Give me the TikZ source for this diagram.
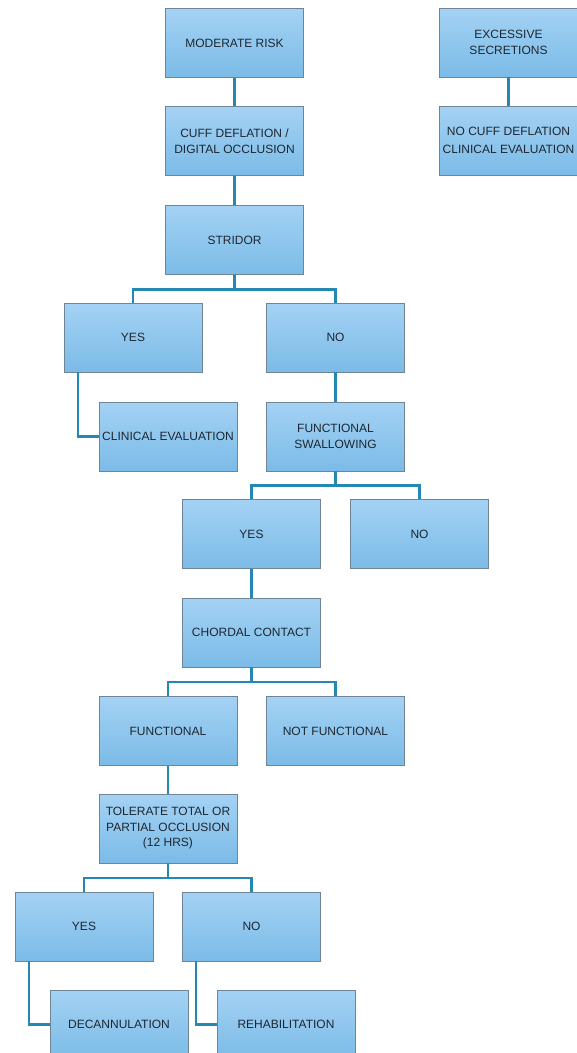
\documentclass[tikz,border=0pt]{standalone}
\usepackage{fontspec}
\setmainfont{Liberation Sans}

\definecolor{boxtop}{HTML}{A4D2F4}
\definecolor{boxbot}{HTML}{7BBBE7}
\definecolor{boxline}{HTML}{6F8496}
\definecolor{wireblue}{HTML}{2389B2}
\definecolor{ink}{HTML}{1E2731}

\begin{document}
\begin{tikzpicture}[x=1pt, y=-1pt,
	box/.style={rectangle, draw=boxline, line width=0.8pt,
		top color=boxtop, bottom color=boxbot,
		minimum width=138pt, minimum height=69pt, inner sep=1.5pt,
		align=center, text=ink, font=\fontsize{12}{15.5}\selectfont},
	wire/.style={draw=wireblue, line width=2.2pt}]
	\useasboundingbox (0,0) rectangle (577,1053);
	
	% 1. 主干：风险评估 -> 喘鸣
	\node[box] (mod)     at (234.5,43)    {MODERATE RISK};
	\node[box] (cuff)    at (234.5,141)   {CUFF DEFLATION /\\DIGITAL OCCLUSION};
	\node[box] (stridor) at (234.5,240)   {STRIDOR};
	
	% 右上角独立分支
	\node[box] (excess)  at (508.5,42.5)  {EXCESSIVE\\SECRETIONS};
	\node[box] (nocuff)  at (508.5,140.5) {NO CUFF DEFLATION\\[3pt]CLINICAL EVALUATION};
	
	% 2. 喘鸣 是/否
	\node[box] (yesA)    at (133,337.5)   {YES};
	\node[box] (noA)     at (335.5,337.5) {NO};
	\node[box] (clin)    at (168,436.5)   {CLINICAL EVALUATION};
	\node[box] (swal)    at (335.5,436.5) {FUNCTIONAL\\SWALLOWING};
	
	% 3. 吞咽功能 是/否
	\node[box] (yesB)    at (251.5,534)   {YES};
	\node[box] (noB)     at (419.5,534)   {NO};
	\node[box] (chord)   at (251.5,632.5) {CHORDAL CONTACT};
	\node[box] (func)    at (168,731)     {FUNCTIONAL};
	\node[box] (nofunc)  at (335.5,731)   {NOT FUNCTIONAL};
	
	% 4. 堵管耐受 是/否
	\node[box] (tol)     at (168,828.5)   {TOLERATE TOTAL OR\\PARTIAL OCCLUSION\\(12 HRS)};
	\node[box] (yesC)    at (84,926.5)    {YES};
	\node[box] (noC)     at (251.5,926.5) {NO};
	\node[box] (decan)   at (119,1024.5)  {DECANNULATION};
	\node[box] (rehab)   at (286,1024.5)  {REHABILITATION};
	
	% 5. 连线（竖直段）
	\draw[wire] (mod.south) -- (cuff.north);
	\draw[wire] (cuff.south) -- (stridor.north);
	\draw[wire] (excess.south) -- (nocuff.north);
	\draw[wire] (noA.south) -- (swal.north);
	\draw[wire] (yesB.south) -- (chord.north);
	\draw[wire] (func.south) -- (tol.north);
	
	% 分叉
	\draw[wire] (stridor.south) -- ++(0,14.5) -| (yesA.north);
	\draw[wire] (stridor.south) -- ++(0,14.5) -| (noA.north);
	\draw[wire] (swal.south) -- ++(0,14) -| (yesB.north);
	\draw[wire] (swal.south) -- ++(0,14) -| (noB.north);
	\draw[wire] (chord.south) -- ++(0,14.5) -| (func.north);
	\draw[wire] (chord.south) -- ++(0,14.5) -| (nofunc.north);
	\draw[wire] (tol.south) -- ++(0,14.5) -| (yesC.north);
	\draw[wire] (tol.south) -- ++(0,14.5) -| (noC.north);
	
	% 侧向折线
	\draw[wire] ([xshift=14pt]yesA.south west) |- (clin.west);
	\draw[wire] ([xshift=14pt]yesC.south west) |- (decan.west);
	\draw[wire] ([xshift=14pt]noC.south west) |- (rehab.west);
	
\end{tikzpicture}
\end{document}
